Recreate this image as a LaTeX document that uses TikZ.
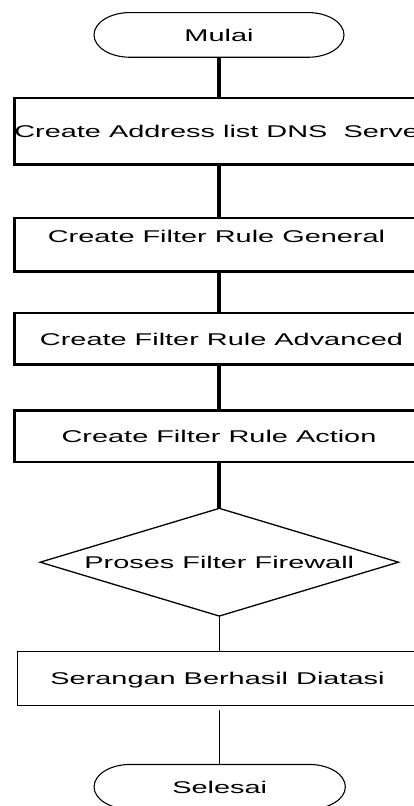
\documentclass[tikz,border=0pt]{standalone}
\usepackage{fontspec}
\usetikzlibrary{shapes.geometric}
\newfontfamily\widesans{Liberation Sans}[FakeStretch=1.70]
\begin{document}
\begin{tikzpicture}[x=1pt,y=-1pt,
  txt/.style={font=\widesans\fontsize{17}{20}\selectfont, text height=12.4pt, text depth=0pt, inner sep=0pt, outer sep=0pt},
  heavybox/.style={txt, draw, line width=2.7pt},
  lightbox/.style={txt, draw, line width=1.3pt},
  terminal/.style={txt, minimum width=250pt, minimum height=44.7pt},
  decision/.style={txt, diamond, draw, line width=1.3pt, aspect=3.33, minimum width=358.3pt, minimum height=107.7pt},
  heavyline/.style={line width=3.2pt},
  lightline/.style={line width=1.3pt},
  outline/.style={line width=1.1pt},
]
\useasboundingbox (0,0) rectangle (414,806);
\clip (0,0) rectangle (414,806);

% start / end terminals
\node[terminal] (mulai) at (219,34.9) {Mulai};
\node[terminal, minimum width=251.3pt] (selesai) at (219.7,786.8) {Selesai};
\foreach \t in {mulai,selesai}
  \draw[outline] ([xshift=36pt]\t.north west) -- ([xshift=-36pt]\t.north east)
    arc[start angle=90, end angle=-90, x radius=36pt, y radius=22.35pt]
    -- ([xshift=36pt]\t.south west)
    arc[start angle=270, end angle=90, x radius=36pt, y radius=22.35pt] -- cycle;

% process steps (left edges at x = 14.7, right edges run past the page)
\node[heavybox, minimum width=413.6pt, minimum height=66.2pt] (b1) at (221.5,131.1) {Create Address list DNS\ \ Server};
\node[heavybox, minimum width=403.6pt, minimum height=53.3pt, text depth=17.4pt] (b2) at (216.5,244.7) {Create Filter Rule General};
\node[heavybox, minimum width=413.6pt, minimum height=51.7pt] (b3) at (221.5,338.8) {Create Filter Rule Advanced};
\node[heavybox, minimum width=408.6pt, minimum height=51.3pt] (b4) at (219,436.3) {Create Filter Rule Action};

\node[decision] (dec) at (219.3,562.2) {Proses Filter Firewall};

\node[lightbox, minimum width=400pt, minimum height=54pt] (b5) at (217.5,678.5) {Serangan Berhasil Diatasi};

% connectors
\draw[heavyline] (mulai.south) -- (b1.north -| mulai.south);
\draw[heavyline] (b1.south -| mulai.south) -- (b2.north -| mulai.south);
\draw[heavyline] (b2.south -| mulai.south) -- (b3.north -| mulai.south);
\draw[heavyline] (b3.south -| mulai.south) -- (b4.north -| mulai.south);
\draw[heavyline] (b4.south -| mulai.south) -- (dec.north -| mulai.south);
\draw[lightline] (dec.south) -- (b5.north -| dec.south);
\draw[lightline, shorten <=4pt] (b5.south -| dec.south) -- (selesai.north -| dec.south);
\end{tikzpicture}
\end{document}
